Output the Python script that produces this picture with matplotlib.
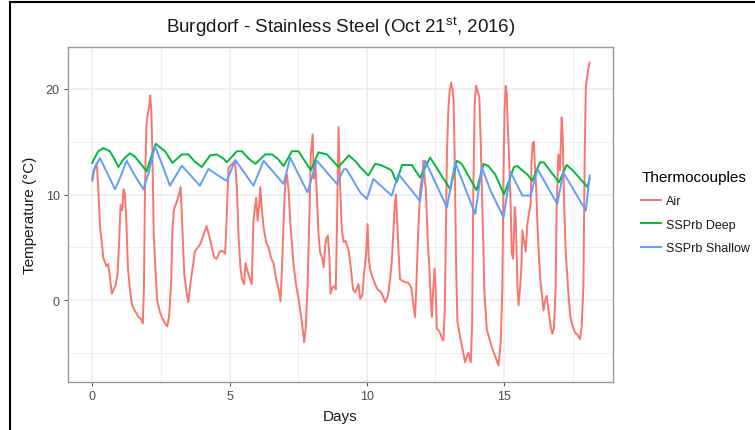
import matplotlib
matplotlib.use("Agg")
import matplotlib.pyplot as plt
from matplotlib.lines import Line2D

plt.rcParams['font.family'] = ['Liberation Sans', 'DejaVu Sans']
plt.rcParams['mathtext.fontset'] = 'custom'
plt.rcParams['mathtext.rm'] = 'Liberation Sans'
plt.rcParams['mathtext.it'] = 'Liberation Sans:italic'
plt.rcParams['mathtext.bf'] = 'Liberation Sans:bold'

# ---------------- data ----------------
air_days = [0.00, 0.05, 0.10, 0.16, 0.22, 0.28, 0.34, 0.40, 0.46, 0.52, 0.58, 0.65, 0.71, 0.78, 0.85,
            0.92, 0.97, 1.03, 1.09, 1.14, 1.19, 1.24, 1.30, 1.37, 1.45, 1.55, 1.68, 1.78, 1.84, 1.88,
            1.92, 1.97, 2.02, 2.08, 2.11, 2.15, 2.19, 2.24, 2.30, 2.36, 2.47, 2.60, 2.73, 2.80, 2.87,
            2.92, 2.97, 3.03, 3.10, 3.16, 3.22, 3.27, 3.35, 3.42, 3.50, 3.57, 3.64, 3.74, 3.85, 3.93,
            4.03, 4.16, 4.25, 4.35, 4.45, 4.53, 4.62, 4.72, 4.84, 4.90, 4.96, 5.09, 5.20, 5.27, 5.33,
            5.40, 5.45, 5.53, 5.58, 5.65, 5.72, 5.81, 5.87, 5.97, 6.02, 6.08, 6.12, 6.18, 6.24, 6.33,
            6.42, 6.51, 6.60, 6.70, 6.79, 6.86, 6.91, 6.97, 7.03, 7.09, 7.15, 7.21, 7.33, 7.42, 7.52,
            7.62, 7.72, 7.78, 7.84, 7.92, 7.96, 8.03, 8.07, 8.12, 8.18, 8.24, 8.30, 8.37, 8.43, 8.48,
            8.52, 8.58, 8.63, 8.68, 8.75, 8.82, 8.87, 8.92, 8.97, 9.03, 9.09, 9.16, 9.22, 9.34, 9.42,
            9.50, 9.58, 9.70, 9.76, 9.84, 9.90, 9.97, 10.03, 10.07, 10.12, 10.20, 10.30, 10.40, 10.50,
            10.60, 10.67, 10.77, 10.85, 10.91, 10.97, 11.02, 11.06, 11.10, 11.15, 11.21, 11.30, 11.40,
            11.52, 11.62, 11.70, 11.76, 11.80, 11.88, 11.95, 12.03, 12.07, 12.12, 12.15, 12.22, 12.28,
            12.33, 12.37, 12.42, 12.47, 12.51, 12.55, 12.65, 12.72, 12.79, 12.84, 12.88, 12.92, 12.97,
            13.02, 13.07, 13.12, 13.16, 13.20, 13.25, 13.30, 13.40, 13.50, 13.58, 13.65, 13.70, 13.75,
            13.79, 13.84, 13.88, 13.93, 13.98, 14.04, 14.10, 14.15, 14.22, 14.28, 14.37, 14.48, 14.60,
            14.70, 14.80, 14.88, 14.94, 14.98, 15.02, 15.06, 15.10, 15.13, 15.18, 15.24, 15.28, 15.33,
            15.36, 15.39, 15.43, 15.49, 15.53, 15.58, 15.63, 15.67, 15.73, 15.79, 15.85, 15.91, 15.97,
            16.00, 16.04, 16.09, 16.12, 16.17, 16.22, 16.28, 16.32, 16.38, 16.44, 16.50, 16.56, 16.62,
            16.70, 16.76, 16.82, 16.88, 16.92, 16.98, 17.04, 17.10, 17.14, 17.19, 17.25, 17.33, 17.41,
            17.50, 17.59, 17.68, 17.77, 17.83, 17.89, 17.94, 17.98, 18.06, 18.12]
air_temp = [11.3, 12.0, 12.6, 13.0, 10.5, 7.0, 5.6, 4.0, 3.6, 3.2, 3.4, 2.0, 0.6, 1.0, 1.4,
            2.5, 5.0, 9.0, 8.5, 10.5, 10.0, 7.5, 3.0, 1.0, -0.5, -1.0, -1.6, -1.8, -2.2, 1.0,
            10.5, 16.5, 17.6, 18.5, 19.4, 18.0, 14.0, 6.0, 3.0, 0.0, -1.2, -2.0, -2.5, -1.5, 1.5,
            6.5, 8.5, 9.0, 9.5, 10.0, 10.7, 7.5, 2.5, 1.0, -0.2, 1.5, 2.8, 4.6, 5.0, 5.3,
            6.0, 7.0, 6.2, 5.0, 4.0, 3.9, 4.5, 4.7, 4.4, 8.0, 12.5, 12.9, 13.2, 10.5, 5.9,
            3.0, 2.0, 1.5, 3.5, 2.8, 2.2, 1.5, 7.5, 9.7, 7.5, 9.0, 10.7, 8.5, 6.9, 5.5,
            5.0, 4.0, 3.5, 2.0, 1.0, -0.1, 3.0, 7.5, 11.0, 11.9, 10.4, 7.5, 3.4, 1.5, 0.0,
            -1.8, -4.0, -2.5, 1.2, 9.1, 13.8, 15.7, 11.5, 13.2, 10.0, 6.3, 4.5, 4.0, 3.1, 5.0,
            5.8, 6.1, 4.5, 0.6, 1.2, 1.3, 1.0, 8.0, 16.4, 10.7, 6.6, 5.5, 5.6, 4.7, 3.0,
            1.0, 0.7, 1.5, 0.1, 0.5, 2.5, 4.2, 7.2, 4.0, 2.9, 2.2, 1.5, 1.0, 0.8,
            0.3, -0.2, 0.4, 2.0, 3.6, 6.5, 9.0, 10.0, 8.0, 5.0, 2.0, 1.8, 1.7,
            1.6, 1.2, -0.5, -1.6, 1.0, 6.9, 10.5, 12.0, 13.2, 11.0, 10.7, 5.6, 3.1,
            0.0, -1.6, 1.0, 3.0, 1.0, -2.7, -3.0, -3.5, -3.85, -1.0, 6.0, 13.8, 18.0,
            19.8, 20.6, 20.0, 19.0, 14.0, 4.0, -2.0, -3.5, -4.8, -5.9, -5.3, -5.0, -5.5,
            -5.9, -2.0, 10.0, 18.5, 20.3, 19.8, 19.2, 15.0, 8.0, 1.0, -2.75, -3.8, -4.8,
            -5.5, -6.2, -4.0, 1.2, 12.0, 18.0, 20.3, 19.5, 17.0, 13.8, 9.1, 4.5, 3.9,
            6.0, 8.8, 7.5, 1.2, -0.5, 1.0, 3.0, 6.6, 5.6, 4.6, 7.2, 8.2, 9.1,
            12.9, 14.8, 15.0, 12.9, 10.7, 6.9, 3.7, 2.0, 0.5, -1.0, 0.0, 0.4, -1.0,
            -2.5, -3.2, -2.6, 1.2, 9.1, 13.8, 12.3, 17.3, 15.4, 9.1, 4.4, 1.2, -1.5,
            -2.5, -3.1, -3.3, -3.7, -2.5, 1.2, 13.8, 20.2, 21.7, 22.5]

deep_days = [0.00, 0.05, 0.22, 0.40, 0.64, 0.80, 0.95, 1.15, 1.37, 1.55, 1.80, 1.98, 2.15, 2.31,
             2.65, 2.92, 3.26, 3.50, 3.74, 3.99, 4.29, 4.53, 4.78, 4.90, 5.27, 5.45, 5.70, 5.94,
             6.30, 6.55, 6.75, 6.97, 7.27, 7.51, 7.96, 8.24, 8.55, 8.97, 9.34, 9.57, 9.76, 10.06,
             10.30, 10.50, 10.75, 10.90, 11.09, 11.28, 11.64, 11.94, 12.31, 12.60, 13.04, 13.28,
             13.46, 14.00, 14.25, 14.43, 14.68, 15.00, 15.36, 15.48, 15.85, 16.03, 16.31, 16.45,
             17.00, 17.28, 17.50, 18.04, 18.12]
deep_temp = [13.0, 13.3, 14.1, 14.4, 14.1, 13.4, 12.6, 13.4, 13.9, 13.6, 12.8, 12.2, 13.6, 14.8,
             14.1, 13.0, 13.8, 13.8, 13.1, 12.6, 13.7, 13.8, 13.4, 13.05, 14.1, 14.1, 13.4, 12.9,
             13.8, 13.8, 13.4, 12.7, 14.1, 14.1, 12.3, 14.0, 13.8, 12.6, 13.7, 13.2, 12.6, 11.8,
             12.9, 12.8, 12.5, 12.3, 11.15, 12.8, 12.8, 11.6, 13.5, 12.3, 10.5, 13.2,
             12.9, 10.4, 12.9, 12.7, 11.9, 10.0, 12.6, 12.7, 11.9, 11.3, 13.05, 13.05,
             11.15, 12.8, 12.3, 10.7, 11.5]

shallow_days = [0.00, 0.05, 0.28, 0.55, 0.83, 1.00, 1.25, 1.55, 1.86, 2.05, 2.28, 2.55, 2.83, 3.26,
                3.92, 4.23, 4.78, 4.90, 5.21, 5.87, 6.24, 6.97, 7.21, 7.84, 8.18, 8.91, 9.16, 9.26,
                9.76, 10.00, 10.24, 10.91, 11.15, 11.94, 12.13, 12.92, 13.22, 13.95, 14.19, 14.51,
                14.98, 15.24, 15.67, 15.97, 16.22, 16.94, 17.16, 17.98, 18.12]
shallow_temp = [11.5, 12.3, 13.46, 12.0, 10.5, 11.5, 13.2, 11.8, 10.5, 12.0, 14.6, 12.8, 10.84, 12.73,
                10.84, 12.42, 11.47, 11.3, 13.27, 10.84, 13.2, 11.0, 13.5, 10.2, 13.2, 11.0, 12.4, 12.4,
                10.2, 9.57, 11.47, 9.9, 11.94, 9.4, 13.2, 8.78, 13.05, 8.15, 12.57, 10.36,
                7.84, 12.1, 9.9, 9.9, 12.4, 9.1, 12.1, 8.47, 11.8]

series_names = ["Air", "SSPrb Deep", "SSPrb Shallow"]
series_colors = ["#F8766D", "#00BA38", "#619CFF"]
x_ticks = [0, 5, 10, 15]
y_ticks = [0, 10, 20]
x_minor = [2.5, 7.5, 12.5, 17.5]
y_minor = [-5, 5, 15]

title = r"Burgdorf - Stainless Steel (Oct 21$^{\mathrm{st}}$, 2016)"

# ---------------- figure ----------------
W, H = 755, 431
fig = plt.figure(figsize=(W / 100, H / 100), dpi=100)
ax = fig.add_axes([68 / W, 1 - 383 / H, (613 - 68) / W, (383 - 48) / H])

grid_c = "#EBEBEB"
for v in x_minor:
    ax.axvline(v, color=grid_c, lw=0.6, zorder=0)
for v in y_minor:
    ax.axhline(v, color=grid_c, lw=0.6, zorder=0)
for v in x_ticks:
    ax.axvline(v, color=grid_c, lw=1.1, zorder=0)
for v in y_ticks:
    ax.axhline(v, color=grid_c, lw=1.1, zorder=0)

data = [(air_days, air_temp), (deep_days, deep_temp), (shallow_days, shallow_temp)]
handles = []
for (xs, ys), name, col in zip(data, series_names, series_colors):
    ln, = ax.plot(xs, ys, color=col, lw=1.4, label=name, zorder=3)
    handles.append(ln)

ax.set_xlim(-0.885, 18.97)
ax.set_ylim(-7.77, 23.98)
ax.set_xticks(x_ticks)
ax.set_yticks(y_ticks)
ax.set_xticklabels([str(v) for v in x_ticks])
ax.set_yticklabels([str(v) for v in y_ticks])
ax.tick_params(axis='both', colors="#333333", labelcolor="#4D4D4D", labelsize=9,
               length=3, width=0.6, pad=3)
for sp in ax.spines.values():
    sp.set_color("#999999")
    sp.set_linewidth(1.0)

ax.set_xlabel("Days", fontsize=11, color="#1A1A1A", labelpad=5)
ax.set_ylabel("Temperature (°C)", fontsize=11, color="#1A1A1A", labelpad=6)
ax.set_title(title, fontsize=13.5, color="#1A1A1A", pad=11)

leg = fig.legend(handles=handles, labels=series_names, title="Thermocouples",
                 loc="center left", bbox_to_anchor=(630 / W, 1 - 213 / H),
                 frameon=False, fontsize=9, title_fontsize=11,
                 handlelength=1.6, handletextpad=0.4, labelspacing=0.9,
                 alignment="left")
for t in leg.get_texts():
    t.set_color("#1A1A1A")

# image frame lines (left and top edge)
fig.add_artist(Line2D([10 / W, 10 / W], [0, 1 - 3 / H], transform=fig.transFigure,
                      color="black", lw=1.5))
fig.add_artist(Line2D([10 / W, 1], [1 - 3 / H, 1 - 3 / H], transform=fig.transFigure,
                      color="black", lw=1.5))

fig.savefig("out.png", dpi=100)
